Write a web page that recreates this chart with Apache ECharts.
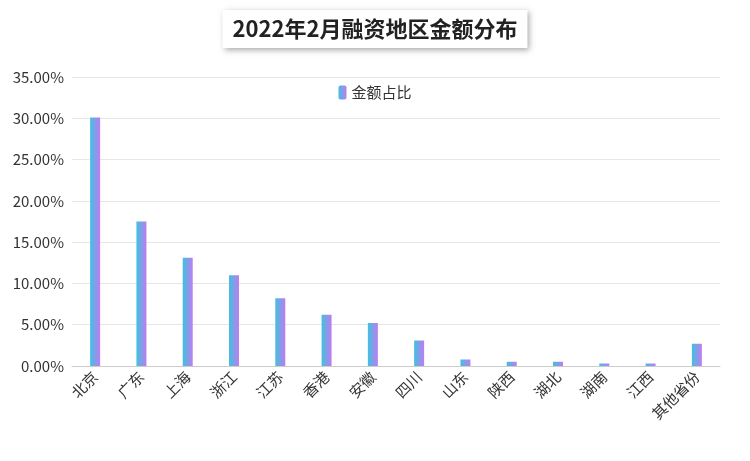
<!DOCTYPE html>
<html>
<head>
<meta charset="utf-8">
<script src="https://cdn.jsdelivr.net/npm/echarts@6/dist/echarts.min.js"></script>
<style>html,body{margin:0;padding:0;background:#fff}#main{width:750px;height:461px}</style>
</head>
<body>
<div id="main"></div>
<script>
var regions = ['北京','广东','上海','浙江','江苏','香港','安徽','四川','山东','陕西','湖北','湖南','江西','其他省份'];
var shares = [30.1,17.5,13.1,11.0,8.2,6.2,5.2,3.1,0.8,0.5,0.5,0.3,0.3,2.7];

var myChart = echarts.init(document.getElementById('main'));
var option = {
  title: {
    text: '2022年2月融资地区金额分布',
    left: 'center',
    top: 10,
    padding: [8, 10],
    backgroundColor: '#fff',
    shadowColor: 'rgba(0,0,0,0.35)',
    shadowBlur: 6,
    shadowOffsetX: 2,
    shadowOffsetY: 2,
    textStyle: { fontSize: 22, fontWeight: 'bold', color: '#222', fontFamily: 'Noto Sans CJK SC' }
  },
  legend: {
    top: 80,
    left: 'center',
    itemWidth: 8,
    itemHeight: 14,
    textStyle: { fontSize: 15, color: '#333', fontFamily: 'Noto Sans CJK SC' },
    data: ['金额占比']
  },
  grid: { left: 72, right: 30, top: 77, bottom: 95 },
  xAxis: {
    type: 'category',
    data: regions,
    axisTick: { show: false },
    axisLine: { lineStyle: { color: '#ccc' } },
    axisLabel: { rotate: 45, interval: 0, fontSize: 15, color: '#333', fontFamily: 'Noto Sans CJK SC' }
  },
  yAxis: {
    type: 'value',
    min: 0, max: 35, interval: 5,
    axisLabel: {
      fontSize: 15, color: '#333', fontFamily: 'Noto Sans CJK SC',
      formatter: function (v) { return v.toFixed(2) + '%'; }
    },
    splitLine: { lineStyle: { color: '#e6e6e6' } }
  },
  series: [{
    name: '金额占比',
    type: 'bar',
    barWidth: 10,
    data: shares,
    itemStyle: {
      color: new echarts.graphic.LinearGradient(0, 0, 1, 0, [
        { offset: 0, color: '#3fc1e0' },
        { offset: 1, color: '#c07cf0' }
      ])
    }
  }]
};
myChart.setOption(option);
</script>
</body>
</html>
